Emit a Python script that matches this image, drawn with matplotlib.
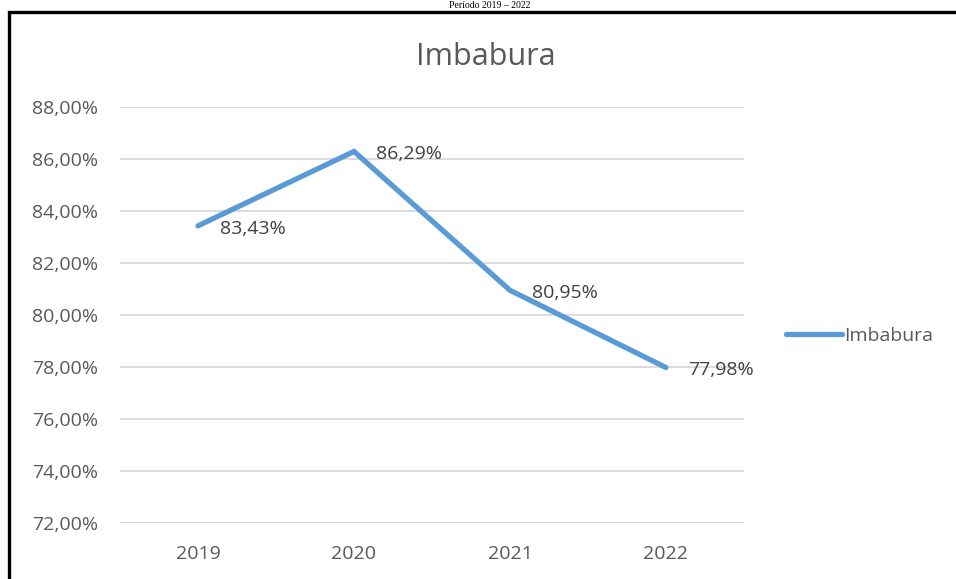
import matplotlib
matplotlib.use("Agg")
import matplotlib.pyplot as plt
from matplotlib.patches import Rectangle

years = ["2019", "2020", "2021", "2022"]
values = [83.43, 86.29, 80.95, 77.98]
yticks = [72, 74, 76, 78, 80, 82, 84, 86, 88]
series_name = "Imbabura"
title = "Imbabura"
top_text = "Período 2019 – 2022"

W, H = 956, 579
fig = plt.figure(figsize=(W / 100, H / 100), dpi=100)
plt.rcParams['font.family'] = ['Open Sans', 'DejaVu Sans']
gray = '#595959'
fs = 14

# axes placement (pixels)
x0, x1 = 120, 744
ytop, ybot = 107, 523
ax = fig.add_axes([x0 / W, 1 - ybot / H, (x1 - x0) / W, (ybot - ytop) / H])

xs = list(range(len(years)))
line, = ax.plot(xs, values, color='#5B9BD5', lw=3.8, solid_capstyle='round',
                solid_joinstyle='miter', label=series_name, zorder=3)
for x, v in zip(xs, values):
    ax.annotate(f"{v:.2f}%".replace('.', ','), (x, v), xytext=(16, -2),
                textcoords='offset points', ha='left', va='center',
                fontsize=fs, color='#404040')

ax.set_xlim(-0.5, len(years) - 0.5)
ax.set_ylim(72, 88)
ax.set_yticks(yticks)
ax.set_yticklabels([f"{t:.2f}%".replace('.', ',') for t in yticks])
ax.set_xticks(xs)
ax.set_xticklabels(years)
ax.tick_params(axis='both', length=0, labelsize=fs, colors=gray)
ax.tick_params(axis='y', pad=16)
ax.tick_params(axis='x', pad=16)
ax.grid(axis='y', color='#D9D9D9', lw=1.3)
ax.set_axisbelow(True)
for s in ax.spines.values():
    s.set_visible(False)

fig.text(486 / W, 1 - 57 / H, title, ha='center', va='center', fontsize=22, color=gray)

leg = fig.legend(handles=[line], labels=[series_name], loc='center left',
                 bbox_to_anchor=(778 / W, 1 - 336 / H), frameon=False,
                 fontsize=fs, handlelength=2.9, handletextpad=0.1, borderaxespad=0)
for t in leg.get_texts():
    t.set_color(gray)

# outer frame (extends beyond the image at right and bottom)
fig.patches.append(Rectangle((8.5 / W, -0.05), 1.2, 1 - 11.5 / H + 0.05,
                             transform=fig.transFigure, fill=False,
                             edgecolor='black', lw=2.4, zorder=10))
fig.text(490 / W, 1 - 5 / H, top_text, ha='center', va='center',
         fontsize=7, family=['Liberation Serif'], color='black')

fig.savefig("out.png", dpi=100)
